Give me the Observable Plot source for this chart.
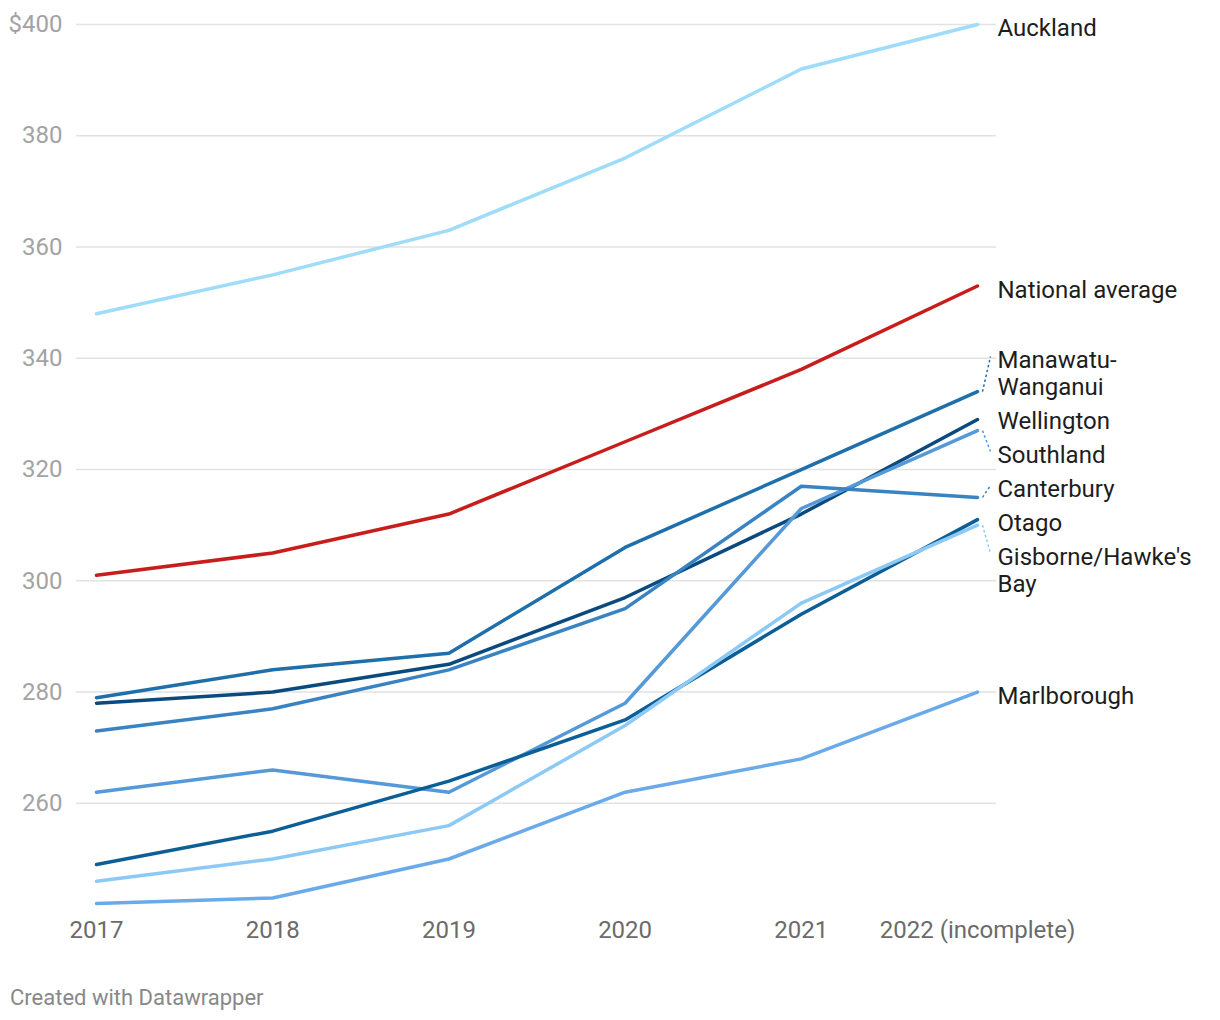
<!DOCTYPE html>
<html>
<head>
<meta charset="utf-8">
<script src="https://cdn.jsdelivr.net/npm/d3@7"></script>
<script src="https://cdn.jsdelivr.net/npm/@observablehq/plot@0.6"></script>
<style>
  html, body { margin: 0; padding: 0; background: #fff; }
  body { width: 1220px; height: 1020px; font-family: Roboto, "Noto Sans", sans-serif; }
  #chart svg { display: block; }
  #caption { font-family: Roboto, sans-serif; font-size: 22px; color: #888; margin: 27px 0 0 10px; line-height: 1; }
</style>
</head>
<body>
<div id="chart"></div>
<div id="caption">Created with Datawrapper</div>
<script>
// ---- data ----
const years = [2017, 2018, 2019, 2020, 2021, 2022];
const yearLabels = ["2017", "2018", "2019", "2020", "2021", "2022 (incomplete)"];
const yTicks = [260, 280, 300, 320, 340, 360, 380, 400];

const seriesNames = ["Auckland", "National average", "Manawatu-Wanganui", "Wellington", "Southland", "Canterbury", "Otago", "Gisborne/Hawke's Bay", "Marlborough"];
const seriesLabels = ["Auckland", "National average", "Manawatu-\nWanganui", "Wellington", "Southland", "Canterbury", "Otago", "Gisborne/Hawke's\nBay", "Marlborough"];
const seriesColors = ["#9edcfa", "#c71e1d", "#1f6fab", "#0a4a7f", "#5599d8", "#3a83c3", "#0c5e96", "#8dc9f5", "#6aaaea"];

const auckland    = [348, 355, 363, 376, 392, 400];
const national    = [301, 305, 312, 325, 338, 353];
const manawatu    = [279, 284, 287, 306, 320, 334];
const wellington  = [278, 280, 285, 297, 312, 329];
const southland   = [262, 266, 262, 278, 313, 327];
const canterbury  = [273, 277, 284, 295, 317, 315];
const otago       = [249, 255, 264, 275, 294, 311];
const gisborne    = [246, 250, 256, 274, 296, 310];
const marlborough = [242, 243, 250, 262, 268, 280];

const seriesValues = [auckland, national, manawatu, wellington, southland, canterbury, otago, gisborne, marlborough];

// ---- build tidy table ----
const rows = [];
seriesNames.forEach((name, i) => {
  years.forEach((yr, j) => rows.push({name, year: yr, value: seriesValues[i][j]}));
});

// ---- layout ----
const width = 1220, height = 960;
const marginTop = 24, marginBottom = 57, marginLeft = 76, marginRight = 224;
const insetLeft = 20, insetRight = 19;
const yDomain = [242, 400];
const fontSize = 24, linePx = 27, labelShift = 3;

const yScale = Plot.scale({y: {domain: yDomain, range: [height - marginBottom, marginTop]}});
const xScale = Plot.scale({x: {domain: [years[0], years[years.length - 1]], range: [marginLeft + insetLeft, width - marginRight - insetRight]}});

// ---- label dodge (cluster averaging) ----
const last = years[years.length - 1];
const labels = seriesNames.map((name, i) => {
  const end = seriesValues[i][seriesValues[i].length - 1];
  const lines = seriesLabels[i].split("\n").length;
  const endPx = yScale.apply(end);
  return {name, text: seriesLabels[i], end, endPx, lines, h: lines * linePx, desiredTop: endPx + labelShift - linePx / 2};
}).sort((a, b) => a.endPx - b.endPx);

const gap = 7;
let clusters = [];
function placeCluster(c) {
  let off = 0, sum = 0;
  c.items.forEach(it => { it.off = off; sum += it.desiredTop - off; off += it.h + gap; });
  c.top = sum / c.items.length;
  c.bottom = c.top + off - gap;
}
for (const lab of labels) {
  let c = {items: [lab]};
  placeCluster(c);
  clusters.push(c);
  while (clusters.length > 1) {
    const a = clusters[clusters.length - 2], b = clusters[clusters.length - 1];
    if (b.top < a.bottom + gap) {
      const m = {items: a.items.concat(b.items)};
      placeCluster(m);
      clusters.splice(clusters.length - 2, 2, m);
    } else break;
  }
}
clusters.forEach(c => c.items.forEach(it => {
  it.top = c.top + it.off;
  it.firstPx = it.top + linePx / 2;
  it.centerPx = it.top + it.h / 2;
  it.labelY = yScale.invert(it.centerPx);
  it.firstY = yScale.invert(it.firstPx - 3);
}));

const endXpx = xScale.apply(last);
const connectors = labels.filter(l => Math.abs(l.firstPx - l.endPx - labelShift) > 2).map(l => ({
  name: l.name,
  x1: xScale.invert(endXpx + 5), y1: l.end,
  x2: xScale.invert(endXpx + 13), y2: l.firstY
}));

const chart = Plot.plot({
  width, height, marginTop, marginBottom, marginLeft, marginRight,
  style: {fontFamily: "Roboto, sans-serif", fontSize: fontSize + "px", background: "#fff", overflow: "visible"},
  x: {domain: [years[0], last], insetLeft, insetRight},
  y: {domain: yDomain},
  color: {domain: seriesNames, range: seriesColors},
  marks: [
    Plot.gridY(yTicks, {stroke: "#e2e2e2", strokeOpacity: 1, strokeWidth: 1.5}),
    Plot.axisY(yTicks, {tickSize: 0, tickPadding: 14, color: "#a3a3a3", fontSize: fontSize, tickFormat: d => d === 400 ? "$400" : String(d), label: null}),
    Plot.axisX(years, {tickSize: 0, tickPadding: 17, color: "#6b6b6b", fontSize: fontSize, tickFormat: (d) => yearLabels[years.indexOf(d)], label: null}),
    Plot.link(connectors, {x1: "x1", y1: "y1", x2: "x2", y2: "y2", stroke: "name", strokeWidth: 1.5, strokeDasharray: "2.5,2.5"}),
    Plot.line(rows, {x: "year", y: "value", z: "name", stroke: "name", strokeWidth: 3.5, strokeLinejoin: "round", strokeLinecap: "round"}),
    Plot.text(labels, {x: () => last, y: "labelY", text: "text", dx: 20, textAnchor: "start", lineHeight: linePx / fontSize, fill: "#1d1d1d", fontSize: fontSize})
  ]
});
document.getElementById("chart").appendChild(chart);
</script>
</body>
</html>
